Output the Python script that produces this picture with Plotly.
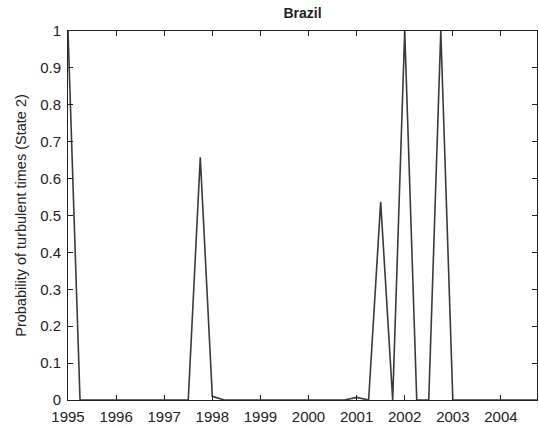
import plotly.graph_objects as go

quarters = [1995 + 0.25 * i for i in range(40)]
prob_state2 = [
    1.0, 0.0, 0.0, 0.0,        # 1995
    0.0, 0.0, 0.0, 0.0,        # 1996
    0.0, 0.002, 0.0, 0.658,    # 1997
    0.01, 0.0, 0.0, 0.0,       # 1998
    0.0, 0.0, 0.0, 0.0,        # 1999
    0.0, 0.0, 0.0, 0.0,        # 2000
    0.007, 0.0, 0.537, 0.0,    # 2001
    1.0, 0.0, 0.0, 1.0,        # 2002
    0.0, 0.0, 0.0, 0.0,        # 2003
    0.0, 0.0, 0.0, 0.0,        # 2004
]
x_ticks = list(range(1995, 2005))
y_ticks = [round(0.1 * i, 1) for i in range(11)]
y_tick_labels = ["0", "0.1", "0.2", "0.3", "0.4", "0.5", "0.6", "0.7", "0.8", "0.9", "1"]

fig = go.Figure()
fig.add_trace(go.Scatter(x=quarters, y=prob_state2, mode="lines",
                         line=dict(color="#3a3a3a", width=1.6), showlegend=False))

font = "Liberation Sans, Arial, Helvetica, sans-serif"
fig.update_layout(
    width=539, height=428,
    margin=dict(l=68, r=2, t=31, b=28, autoexpand=False),
    paper_bgcolor="white", plot_bgcolor="white",
    font=dict(family=font, size=15, color="#222"),
    title=dict(text="<b>Brazil</b>", x=(68 + 537) / 2 / 539, xanchor="center",
               y=1 - 13 / 428, yanchor="middle", font=dict(size=14, color="#222"),
               automargin=False),
)
fig.update_xaxes(range=[1995, 2004.75], tickvals=x_ticks, ticktext=[str(v) for v in x_ticks],
                 ticks="inside", ticklen=5, tickcolor="#222", showline=True, linecolor="#222",
                 linewidth=1, mirror="ticks", showgrid=False, zeroline=False,
                 tickfont=dict(size=15), automargin=False, ticklabelstandoff=3)
fig.update_yaxes(range=[0, 1], tickvals=y_ticks, ticktext=y_tick_labels,
                 ticks="inside", ticklen=5, tickcolor="#222", showline=True, linecolor="#222",
                 linewidth=1, mirror="ticks", showgrid=False, zeroline=False,
                 tickfont=dict(size=15), automargin=False, ticklabelstandoff=3,
                 title=dict(text="Probability of turbulent times (State 2)", font=dict(size=14.5), standoff=10))

fig.write_html("out.html", config={"displayModeBar": False},
               post_script="document.body.style.margin='0';document.body.style.padding='0';")
